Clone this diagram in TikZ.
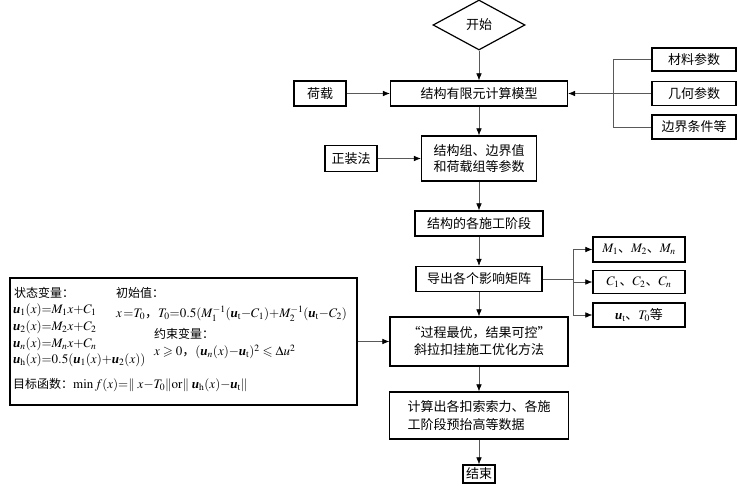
\documentclass[tikz,border=0pt]{standalone}
\usepackage{amsmath,amssymb}
\usepackage{mathptmx}
\usepackage[no-math]{fontspec}
\setmainfont{Noto Sans CJK SC}
\newfontfamily\tms{Liberation Serif}
\newcommand\bu{\text{\tms\bfseries\itshape u}}
\usetikzlibrary{shapes.geometric,arrows.meta}
\begin{document}
\begin{tikzpicture}[x=1pt,y=-1pt,
  box/.style={draw,line width=1.2pt,inner sep=0pt,align=center,font=\fontsize{13}{16}\selectfont},
  conn/.style={line width=0.6pt,draw=black!65},
  arr/.style={conn,-{Latex[length=7pt,width=5.5pt,black]}},
  bt/.style={anchor=west,inner sep=0pt,font=\fontsize{12}{14}\selectfont},
  bm/.style={anchor=west,inner sep=0pt,font=\fontsize{13}{15}\selectfont}]
\useasboundingbox (0,0) rectangle (738,486);
% main column
\node[box,diamond,minimum width=92pt,minimum height=50pt] (start) at (479,25) {开始};
\node[box,minimum width=177pt,minimum height=25pt] (model) at (479,93.5) {结构有限元计算模型};
\node[box,minimum width=115pt,minimum height=45pt] (grp) at (479,158.5) {结构组、边界值\\和荷载组等参数};
\node[box,minimum width=128pt,minimum height=25pt] (stage) at (479,223.5) {结构的各施工阶段};
\node[box,minimum width=126pt,minimum height=25pt] (mtx) at (479,279) {导出各个影响矩阵};
\node[box,minimum width=178pt,minimum height=49pt,font=\fontsize{13}{17}\selectfont] (opt) at (479,341.5) {“过程最优，结果可控”\\斜拉扣挂施工优化方法};
\node[box,minimum width=179pt,minimum height=47pt,align=left,font=\fontsize{13}{18}\selectfont] (calc) at (479,415.5) {计算出各扣索索力、各施\\工阶段预抬高等数据};
\node[box,minimum width=32pt,minimum height=18pt] (end) at (479,474) {结束};
% side inputs
\node[box,minimum width=52pt,minimum height=25pt] (load) at (320,93.5) {荷载};
\node[box,minimum width=84pt,minimum height=23pt] (mat) at (694,59.5) {材料参数};
\node[box,minimum width=84pt,minimum height=24pt] (geo) at (694,93.5) {几何参数};
\node[box,minimum width=84pt,minimum height=24pt] (bc) at (694,127) {边界条件等};
\node[box,minimum width=52pt,minimum height=26pt] (zz) at (351,158.5) {正装法};
% outputs
\node[box,minimum width=92pt,minimum height=25pt] (oM) at (639,249.5) {$M_1$、$M_2$、$M_n$};
\node[box,minimum width=92pt,minimum height=23pt] (oC) at (639,282) {$C_1$、$C_2$、$C_n$};
\node[box,minimum width=92pt,minimum height=24pt] (oU) at (639,315) {$\bu_\mathrm{t}$、$T_0$等};
% big box
\node[draw,line width=1.2pt,inner sep=0pt,minimum width=347pt,minimum height=127pt] (big) at (183.5,341.5) {};
\node[bt] (s0) at (14,293) {状态变量：};
\node[bm] (s1) at (13,310) {$\bu_1(x){=}M_1x{+}C_1$};
\node[bm] (s2) at (13,327) {$\bu_2(x){=}M_2x{+}C_2$};
\node[bm] (s3) at (13,344) {$\bu_n(x){=}M_nx{+}C_n$};
\node[bm] (s4) at (13,360) {$\bu_\mathrm{h}(x){=}0.5(\bu_1(x){+}\bu_2(x))$};
\node[bt] (i0) at (116,293) {初始值：};
\node[bm] (i1) at (116,314) {$x\,{=}T_0$，$T_0{=}0.5(M_1^{-1}(\bu_\mathrm{t}{-}C_1){+}M_2^{-1}(\bu_\mathrm{t}{-}C_2)$};
\node[bt] (c0) at (154,334) {约束变量：};
\node[bm] (c1) at (154,352) {$x\geqslant0$，$(\bu_n(x){-}\bu_\mathrm{t})^2\leqslant\Delta u^2$};
\node[bt] (g0) at (13,385) {目标函数：\fontsize{13}{15}\selectfont$\min f(x){=}\|\;x{-}T_0\|\mathrm{or}\|\;\bu_\mathrm{h}(x){-}\bu_\mathrm{t}\|$};
% connectors
\coordinate (rb) at (613,0);
\coordinate (ob) at (573,0);
\draw[arr] (start.south) -- (model.north);
\draw[arr] (load.east) -- (model.west);
\draw[conn] (mat.west) -- (mat.west -| rb) -- (bc.west -| rb) -- (bc.west);
\draw[arr] (geo.west) -- (model.east);
\draw[arr] (model.south) -- (grp.north);
\draw[arr] (zz.east) -- (grp.west);
\draw[arr] (grp.south) -- (stage.north);
\draw[arr] (stage.south) -- (mtx.north);
\draw[conn] (mtx.east) -- (mtx.east -| ob);
\draw[conn] (oM.west -| ob) -- (oU.west -| ob);
\draw[arr] (oM.west -| ob) -- (oM.west);
\draw[arr] (oC.west -| ob) -- (oC.west);
\draw[arr] (oU.west -| ob) -- (oU.west);
\draw[arr] (mtx.south) -- (opt.north);
\draw[arr] (big.east) -- (opt.west);
\draw[arr] (opt.south) -- (calc.north);
\draw[arr] (calc.south) -- (end.north);
\end{tikzpicture}
\end{document}
